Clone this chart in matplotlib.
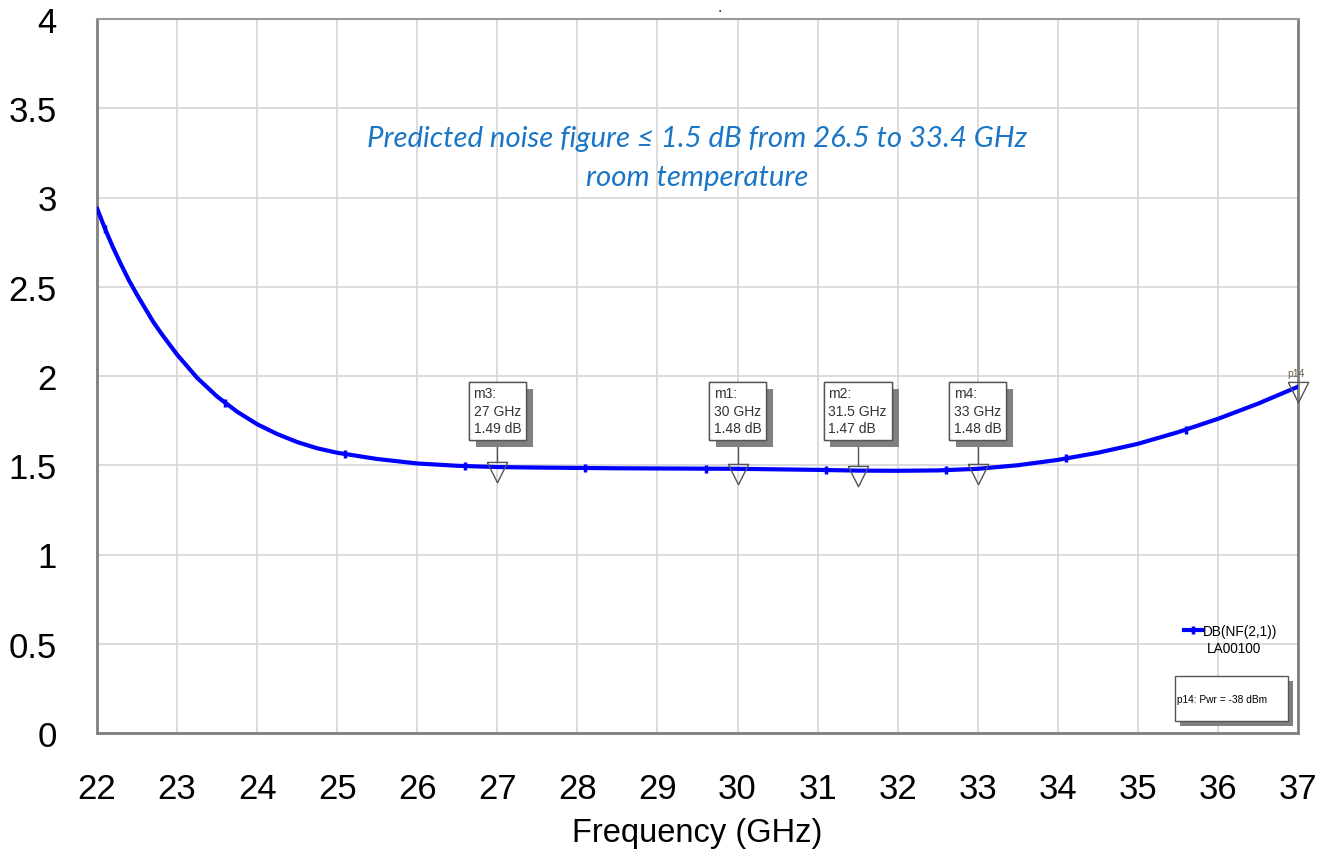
import numpy as np
import matplotlib
matplotlib.use("Agg")
import matplotlib.pyplot as plt
from matplotlib.patches import Rectangle
from matplotlib.lines import Line2D
import matplotlib.patheffects as pe

plt.rcParams['font.family'] = ['Liberation Sans', 'DejaVu Sans']

# ---------------- data ----------------
freq_ghz = [22.0, 22.1, 22.2, 22.3, 22.4, 22.5, 22.6, 22.7, 22.8, 22.9, 23.0,
            23.25, 23.5, 23.75, 24.0, 24.25, 24.5, 24.75, 25.0,
            25.5, 26.0, 26.5, 27.0, 27.5, 28.0, 28.5, 29.0, 29.5, 30.0, 30.5,
            31.0, 31.5, 32.0, 32.5, 33.0, 33.5, 34.0, 34.5, 35.0, 35.5, 36.0,
            36.5, 37.0]
nf_db = [2.94, 2.825, 2.72, 2.625, 2.535, 2.455, 2.38, 2.305, 2.24, 2.18, 2.12,
         1.99, 1.885, 1.80, 1.73, 1.675, 1.63, 1.595, 1.57,
         1.535, 1.51, 1.497, 1.49, 1.487, 1.485, 1.483, 1.482, 1.481, 1.48, 1.477,
         1.474, 1.47, 1.469, 1.471, 1.48, 1.50, 1.53, 1.57, 1.62, 1.685, 1.76,
         1.845, 1.94]
symbol_freqs = [22.1, 23.6, 25.1, 26.6, 28.1, 29.6, 31.1, 32.6, 34.1, 35.6]

marker_names = ["m3", "m1", "m2", "m4"]
marker_freqs = [27.0, 30.0, 31.5, 33.0]
marker_vals = [1.49, 1.48, 1.47, 1.48]

p14_freq = 37.0
p14_val = 1.94

x_ticks = list(range(22, 38))
y_ticks = [0, 0.5, 1, 1.5, 2, 2.5, 3, 3.5, 4]
y_tick_labels = ["0", "0.5", "1", "1.5", "2", "2.5", "3", "3.5", "4"]

title_line1 = "Predicted noise figure \u2264 1.5 dB from 26.5 to 33.4 GHz"
title_line2 = "room temperature"
legend_label = "DB(NF(2,1))"
legend_sub = "LA00100"
p14_note = "p14: Pwr = -38 dBm"

# ---------------- figure ----------------
W, H = 1327, 854
fig = plt.figure(figsize=(W / 100, H / 100), dpi=100)
ax = fig.add_axes([97 / W, 1 - 734 / H, (1298 - 97) / W, (734 - 20) / H])

ax.set_xlim(22, 37)
ax.set_ylim(0, 4)
ax.set_xticks(x_ticks)
ax.set_yticks(y_ticks)
ax.set_yticklabels(y_tick_labels)
ax.tick_params(axis='both', length=0, labelsize=25)
ax.tick_params(axis='x', pad=28)
ax.tick_params(axis='y', pad=29)
ax.grid(True, color='#d6d6d6', lw=1.2)
ax.set_axisbelow(True)
for s in ['left', 'bottom', 'right']:
    ax.spines[s].set_color('#7f7f7f')
    ax.spines[s].set_linewidth(2)
ax.spines['top'].set_color('#999999')
ax.spines['top'].set_linewidth(1.5)

ax.set_xlabel("Frequency (GHz)", fontsize=23.5)
ax.xaxis.set_label_coords(0.5, -0.117)
ax.xaxis.label.set_va('top')

# curve
ax.plot(freq_ghz, nf_db, color='#0000ff', lw=3.0, solid_capstyle='round',
        solid_joinstyle='round', zorder=3)
sym_y = np.interp(symbol_freqs, freq_ghz, nf_db)
ax.plot(symbol_freqs, sym_y, ls='none', marker='|', ms=6, mew=2.5, color='#0000ff', zorder=3)

# hollow down-triangle whose top edge sits just above the data point
tri = [(-1, 0.5), (1, 0.5), (0, -1.5), (-1, 0.5)]

# marker boxes
box_bottom = 1.647
for name, f, v in zip(marker_names, marker_freqs, marker_vals):
    ax.plot([f], [v], marker=tri, ms=22, mfc='none', mec='#555555', mew=1.0, zorder=5)
    ax.plot([f, f], [v + 0.03, box_bottom], color='#555555', lw=1.0, zorder=4)
    t = ax.text(f, box_bottom + 0.022, f"{name}:\n{f:g} GHz\n{v:.2f} dB",
                ha='center', va='bottom', multialignment='left', fontsize=10,
                color='#333333', linespacing=1.3, zorder=6,
                bbox=dict(boxstyle='square,pad=0.35', fc='white', ec='#555555', lw=1.0))
    t.get_bbox_patch().set_path_effects([
        pe.withSimplePatchShadow(offset=(5, -5), shadow_rgbFace='#808080', alpha=1.0),
        pe.Normal()])

# p14 marker
ax.plot([p14_freq], [p14_val], marker=tri, ms=22, mfc='none', mec='#555555', mew=1.0,
        zorder=5, clip_on=False)
ax.text(p14_freq - 0.02, p14_val + 0.05, "p14", fontsize=7.5, color='#6b5a4a',
        ha='center', va='bottom')

# title text
ax.text(29.5, 3.333, title_line1, ha='center', va='center', fontsize=21.2,
        style='italic', color='#1a76c6', family=['Lato', 'DejaVu Sans'])
ax.text(29.5, 3.115, title_line2, ha='center', va='center', fontsize=21.2,
        style='italic', color='#1a76c6', family=['Lato', 'DejaVu Sans'])

# legend
h = Line2D([], [], color='#0000ff', lw=3, marker='|', ms=6, mew=2.5)
leg = ax.legend([h], [legend_label], loc='center left',
                bbox_to_anchor=(1184 / W, 1 - 632 / H), bbox_transform=fig.transFigure,
                frameon=False, fontsize=9.8, handlelength=1.3, handletextpad=0.1,
                borderpad=0, borderaxespad=0)
fig.text(1207 / W, 1 - 649 / H, legend_sub, fontsize=9.8, ha='left', va='center')

# p14 note box
bx0, by0, bw, bh = 1175, 677, 113, 45
shadow = Rectangle(((bx0 + 5) / W, 1 - (by0 + bh + 5) / H), bw / W, bh / H,
                   transform=fig.transFigure, fc='#808080', ec='none', zorder=5)
box = Rectangle((bx0 / W, 1 - (by0 + bh) / H), bw / W, bh / H,
                transform=fig.transFigure, fc='white', ec='#555555', lw=1, zorder=6)
fig.patches.extend([shadow, box])
fig.text((bx0 + 2) / W, 1 - (by0 + 23) / H, p14_note, fontsize=7.3, ha='left',
         va='center', zorder=7)

# small dot at top
fig.text(720 / W, 1 - 12 / H, "\u2022", fontsize=5, ha='center', va='center', color='#333333')

fig.savefig("out.png", dpi=100)
